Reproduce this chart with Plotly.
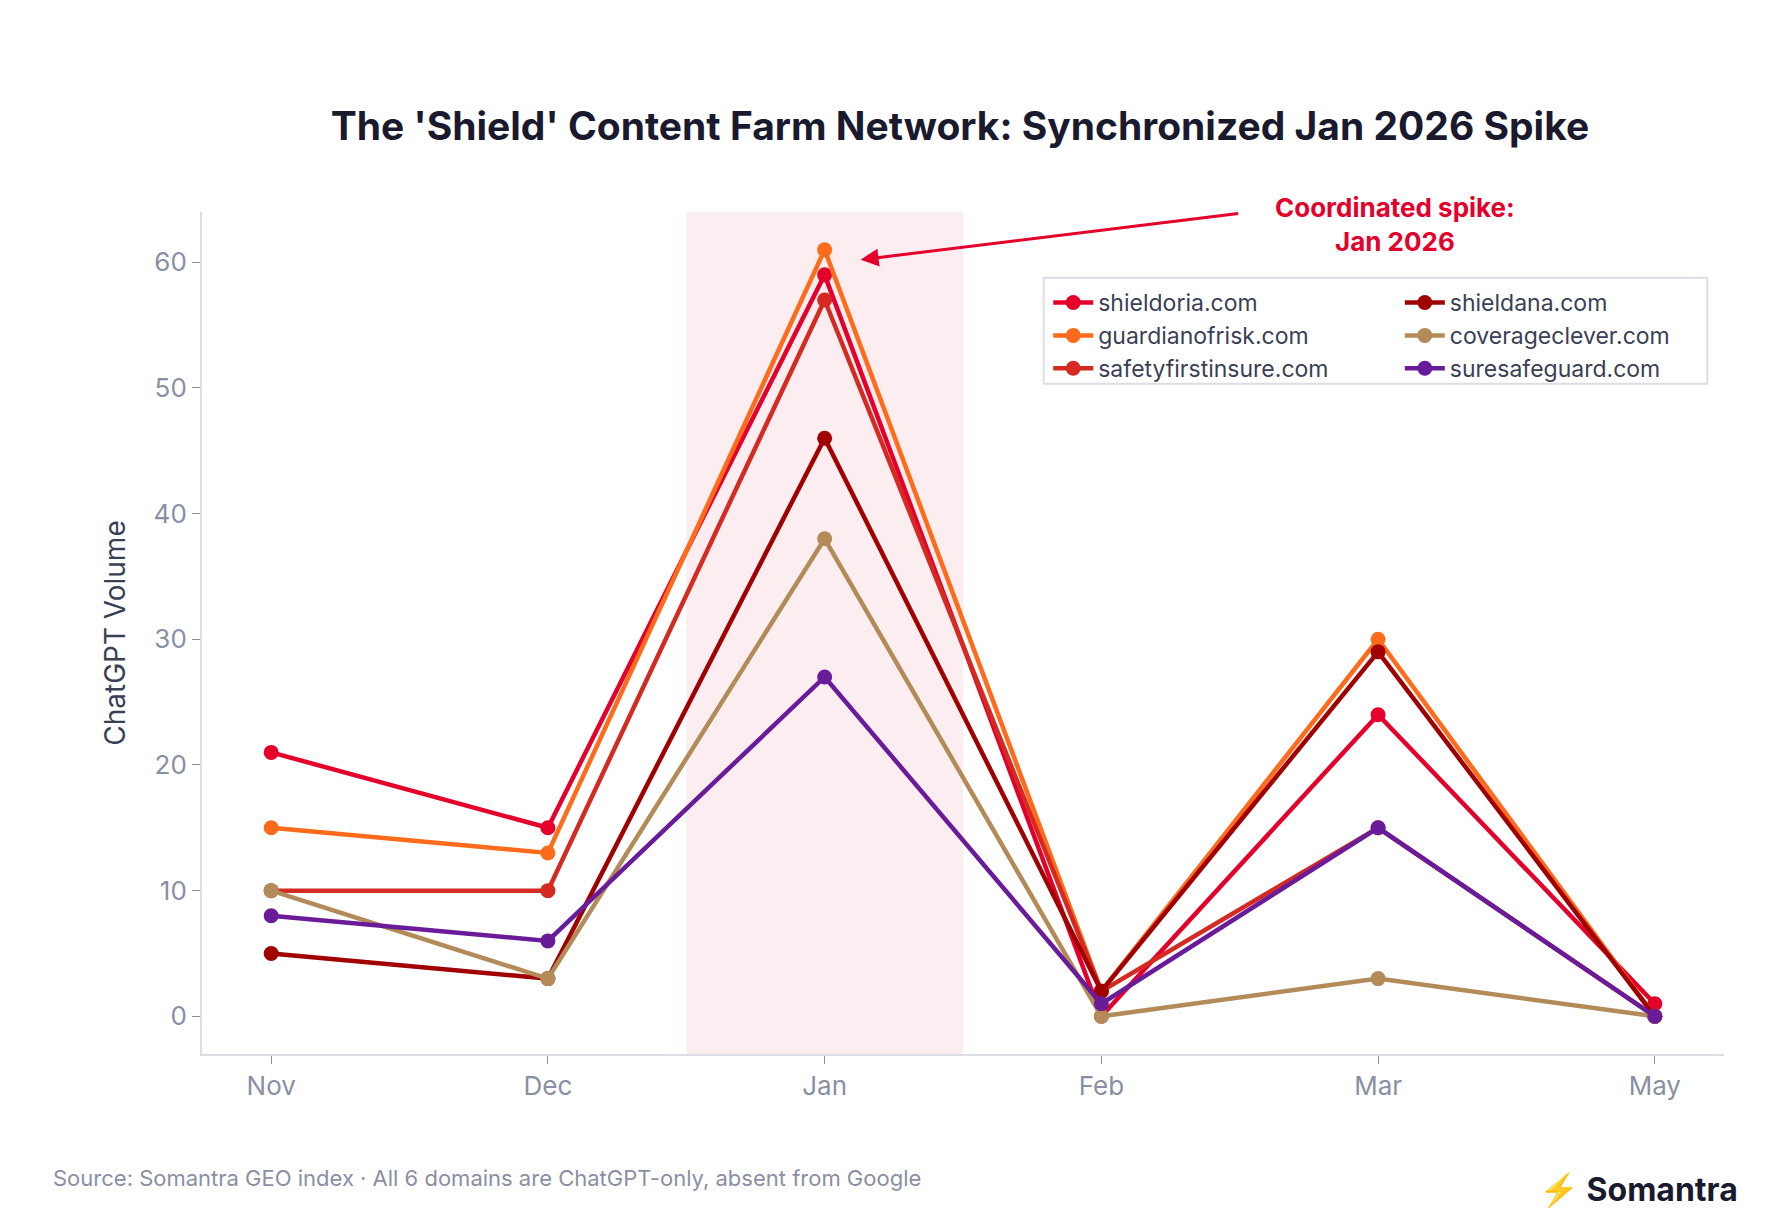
import plotly.graph_objects as go

months = ["Nov", "Dec", "Jan", "Feb", "Mar", "May"]
domains = ["shieldoria.com", "guardianofrisk.com", "safetyfirstinsure.com",
           "shieldana.com", "coverageclever.com", "suresafeguard.com"]
shieldoria = [21, 15, 59, 0, 24, 1]
guardianofrisk = [15, 13, 61, 2, 30, 0]
safetyfirstinsure = [10, 10, 57, 2, 15, 0]
shieldana = [5, 3, 46, 2, 29, 0]
coverageclever = [10, 3, 38, 0, 3, 0]
suresafeguard = [8, 6, 27, 1, 15, 0]
series = [shieldoria, guardianofrisk, safetyfirstinsure, shieldana, coverageclever, suresafeguard]
colors = ["#E4002B", "#FF6B1A", "#D42A22", "#A00000", "#B38B59", "#6A1B9A"]

fig = go.Figure()
for i, (name, vals, c) in enumerate(zip(domains, series, colors)):
    fig.add_trace(go.Scatter(x=list(range(len(months))), y=vals, name=name, mode="lines+markers",
                             line=dict(color=c, width=4.5), marker=dict(size=15, color=c),
                             legend="legend" if i < 3 else "legend2"))

fig.add_vrect(x0=1.5, x1=2.5, fillcolor="#FCEEF0", line_width=0, layer="below")

font = "Inter, Lato, sans-serif"
leg = dict(xanchor="left", yanchor="top", traceorder="normal", font=dict(size=23, color="#3A3F55"),
           bgcolor="rgba(0,0,0,0)", borderwidth=0, itemwidth=40, tracegroupgap=0)
fig.update_layout(
    width=1776, height=1221, plot_bgcolor="white", paper_bgcolor="white",
    margin=dict(l=194, r=60, t=204, b=175),
    font=dict(family=font, color="#8A8FA3"),
    title=dict(text="<b>The 'Shield' Content Farm Network: Synchronized Jan 2026 Spike</b>",
               x=0.536, xanchor="center", y=0.903, yanchor="middle",
               font=dict(size=39, color="#1A1A2E", family=font)),
    xaxis=dict(range=[-0.25, 5.25], tickvals=list(range(6)), ticktext=months,
               showgrid=False, showline=True, linecolor="#DDDDE5", linewidth=2,
               ticks="outside", ticklen=8, tickcolor="#8A8FA3", tickfont=dict(size=26), zeroline=False),
    yaxis=dict(range=[-3, 64], tickvals=[0, 10, 20, 30, 40, 50, 60], showgrid=False,
               showline=True, linecolor="#DDDDE5", linewidth=2, ticks="outside", ticklen=8,
               tickcolor="#8A8FA3", tickfont=dict(size=26), zeroline=False,
               title=dict(text="ChatGPT Volume", font=dict(size=28, color="#3A3F55"), standoff=20)),
    legend=dict(x=0.556, y=0.918, **leg),
    legend2=dict(x=0.787, y=0.918, **leg),
)
fig.add_shape(type="rect", xref="x domain", yref="y domain", x0=0.553, x1=0.989, y0=0.796, y1=0.922,
              line=dict(color="#DDDDE5", width=2), fillcolor="white", layer="above")

fig.add_annotation(x=2.13, y=60.2, ax=3.5, ay=63.9, axref="x", ayref="y",
                   xref="x", yref="y", showarrow=True, arrowhead=2, arrowsize=1.2,
                   arrowwidth=3, arrowcolor="#E4002B", text="")
fig.add_annotation(x=4.06, y=63.0, xref="x", yref="y", text="<b>Coordinated spike:<br>Jan 2026</b>",
                   showarrow=False, font=dict(size=26, color="#E4002B"))
fig.add_annotation(text="Source: Somantra GEO index · All 6 domains are ChatGPT-only, absent from Google",
                   xref="paper", yref="paper", x=(43-194)/1522, y=-(1170-1046)/842, xanchor="left",
                   yanchor="middle", showarrow=False, font=dict(size=22, color="#8A8FA3"))
fig.add_annotation(text="<b>⚡ Somantra</b>", xref="paper", yref="paper", x=(1732-194)/1522,
                   y=-(1181-1046)/842, xanchor="right", yanchor="middle", showarrow=False,
                   font=dict(size=32, color="#1A1A2E"))
fig.write_html("out.html")
